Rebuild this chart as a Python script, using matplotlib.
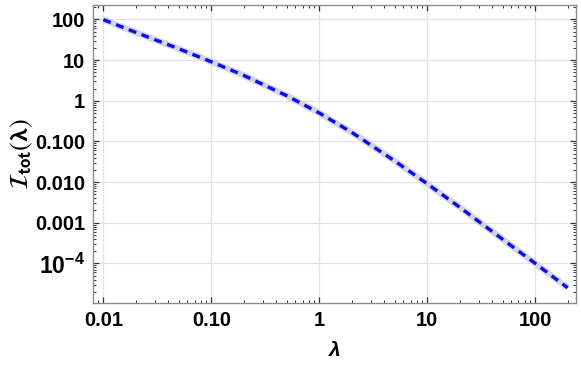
import numpy as np
import matplotlib
matplotlib.use('Agg')
import matplotlib.pyplot as plt
from matplotlib.ticker import FixedLocator, FixedFormatter, LogLocator, NullFormatter

plt.rcParams['font.family'] = ['Liberation Sans', 'DejaVu Sans']
plt.rcParams['mathtext.fontset'] = 'custom'
plt.rcParams['mathtext.bf'] = 'Liberation Sans:bold'
plt.rcParams['mathtext.rm'] = 'Liberation Sans:bold'

# values
lam = [0.01, 0.02, 0.05, 0.1, 0.2, 0.5, 1, 2, 5, 10, 20, 50, 100, 200]
itot = [99, 48, 19, 9.1, 4.2, 1.33, 0.5, 0.167, 0.033, 0.0091, 0.0024, 0.00039, 0.0001, 0.000025]

xticks = [0.01, 0.1, 1, 10, 100]
xlabels = ['0.01', '0.10', '1', '10', '100']
yticks = [1e2, 1e1, 1, 1e-1, 1e-2, 1e-3, 1e-4]
ylabels = ['100', '10', '1', '0.100', '0.010', '0.001', r'$\mathbf{10^{-4}}$']

fig = plt.figure(figsize=(5.81, 3.66), dpi=100)
ax = fig.add_axes([0.1605, 0.173, 0.831, 0.813])

ax.plot(lam, itot, color='#d3d6e2', lw=4.6, solid_capstyle='butt', zorder=3)
ax.plot(lam, itot, color='#0a0af5', lw=2.4, dashes=(2.4, 1.7), zorder=4)

ax.set_xscale('log')
ax.set_yscale('log')
ax.set_xlim(0.00807, 239)
ax.set_ylim(1.08e-5, 225)

ax.xaxis.set_major_locator(FixedLocator(xticks))
ax.xaxis.set_major_formatter(FixedFormatter(xlabels))
ax.yaxis.set_major_locator(FixedLocator(yticks))
ax.yaxis.set_major_formatter(FixedFormatter(ylabels))
ax.xaxis.set_minor_locator(LogLocator(base=10, subs=np.arange(2, 10), numticks=20))
ax.yaxis.set_minor_locator(LogLocator(base=10, subs=np.arange(2, 10), numticks=20))
ax.xaxis.set_minor_formatter(NullFormatter())
ax.yaxis.set_minor_formatter(NullFormatter())

ax.grid(True, which='major', color='#e3e3e3', lw=0.9)
ax.set_axisbelow(True)

for s in ax.spines.values():
    s.set_color('#8c8c8c')
    s.set_linewidth(1.0)

ax.tick_params(which='both', direction='in', top=True, right=True, color='#333333')
ax.tick_params(which='major', length=4.5, width=0.9, labelsize=14.5, pad=6)
ax.tick_params(which='minor', length=2.5, width=0.7)
for lab in ax.get_xticklabels() + ax.get_yticklabels():
    lab.set_fontweight('bold')
ax.get_yticklabels()[-1].set_fontsize(16.5)

ax.set_xlabel('λ', fontsize=15, fontweight='bold', fontstyle='italic', labelpad=8)
ax.set_ylabel(r'$\mathcal{I}_{\mathsf{\mathbf{tot}}}(\mathbf{\lambda})$', fontsize=19,
              math_fontfamily='stixsans', labelpad=0)

fig.savefig('out.png', dpi=100)
